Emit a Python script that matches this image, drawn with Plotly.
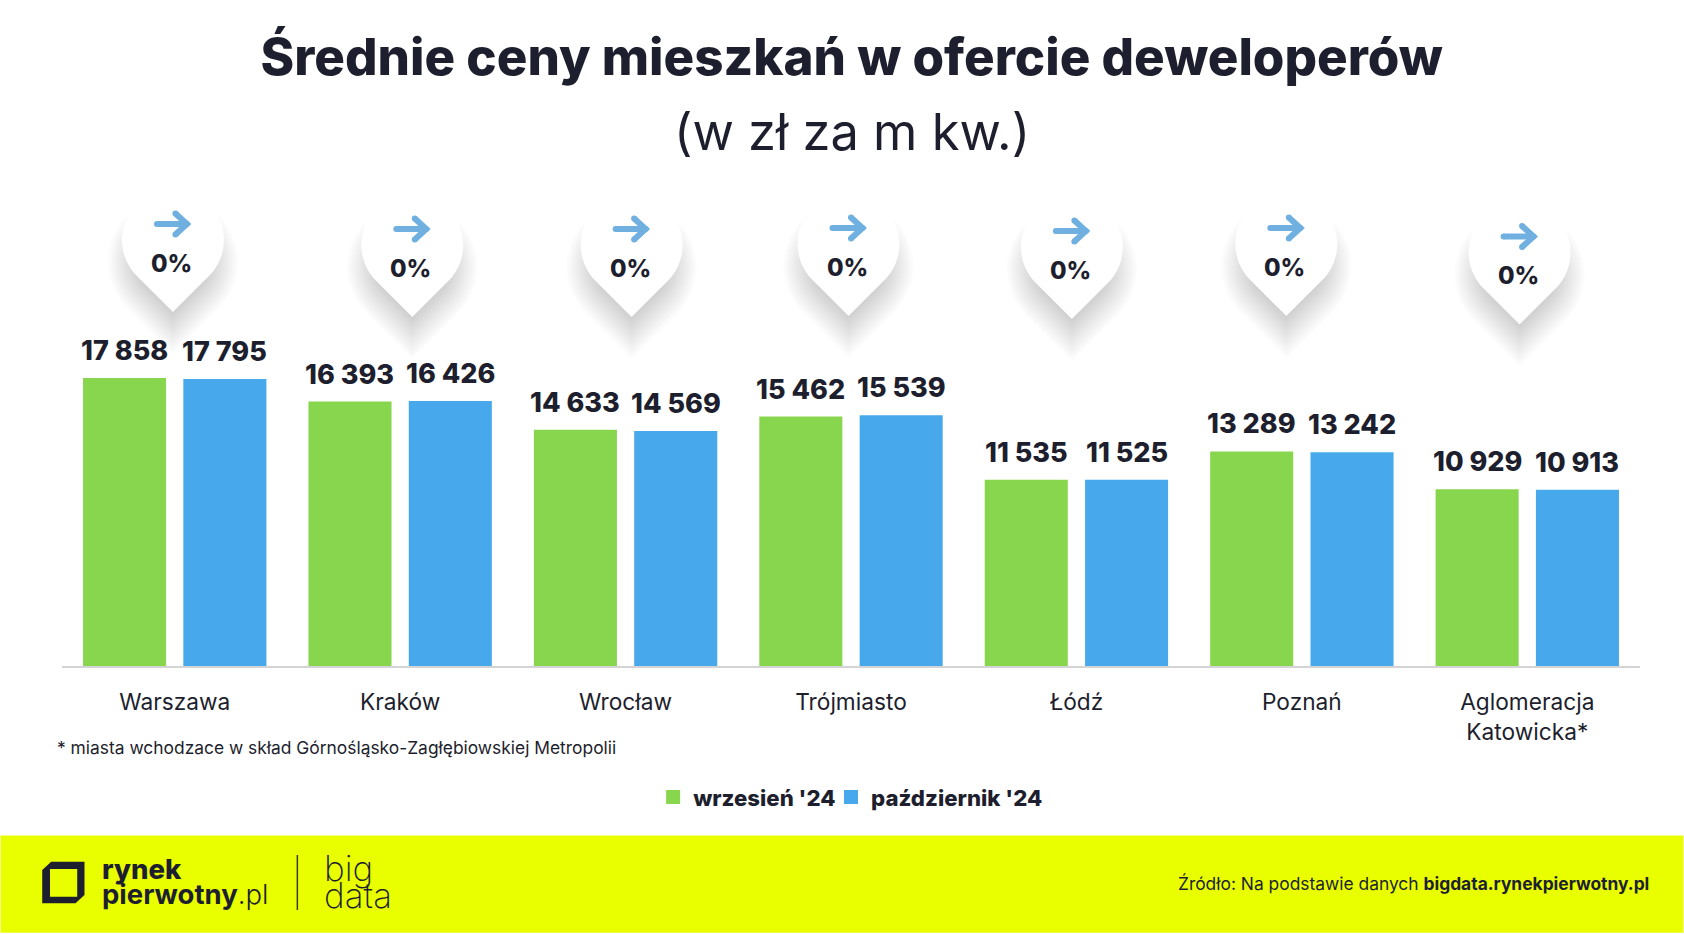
import numpy as np
import plotly.graph_objects as go

categories = ["Warszawa", "Kraków", "Wrocław", "Trójmiasto", "Łódź", "Poznań", "Aglomeracja<br>Katowicka*"]
september = [17858, 16393, 14633, 15462, 11535, 13289, 10929]
october = [17795, 16426, 14569, 15539, 11525, 13242, 10913]
changes = ["0%", "0%", "0%", "0%", "0%", "0%", "0%"]
series_names = ["wrzesień '24", "październik '24"]
title_text = "Średnie ceny mieszkań w ofercie deweloperów"
subtitle_text = "(w zł za m kw.)"
note_text = "* miasta wchodzace w skład Górnośląsko-Zagłębiowskiej Metropolii"
source_plain = "Źródło: Na podstawie danych "
source_bold = "bigdata.rynekpierwotny.pl"

# ---- layout constants (pixels) ----
W, H = 1684, 934
L, R, T, B = 61.5, 1640.5, 170, 666
PX_PER_UNIT = 0.01607
PIN_TIPS = [(172.5, 312), (412, 317), (631.5, 317), (848.5, 316), (1072, 319), (1286.6, 316), (1520, 324.5)]
FONT = "Inter"
DARK = "#1e1f2e"
GREEN = "#88d64e"
BLUE = "#47a9ec"
YELLOW = "#e9ff00"
ARROW = "#6fb0e0"


def px(x):
    return (x - L) / (R - L)


def py(y):
    return (B - y) / (B - T)


def path(points, close=True):
    s = "M" + "L".join(f"{px(x):.5f},{py(y):.5f}" for x, y in points)
    return s + ("Z" if close else "")


def pin_points(tx, ty, r=51.0, dy=0.0):
    cx, cy = tx, ty - 72.0 + dy
    pts = [(cx, cy + 72.0 * r / 51.0)]
    pts += [(cx + r * np.cos(a), cy - r * np.sin(a)) for a in np.radians(np.linspace(225, -45, 50))]
    return pts


def circle(x, y, r, color):
    return dict(type="circle", xref="paper", yref="paper", layer="below",
                x0=px(x - r), x1=px(x + r), y0=py(y + r), y1=py(y - r),
                fillcolor=color, line_width=0)


def text(x, y, s, size, color=DARK, anchor="center", weight=None):
    font = dict(family=FONT, size=size, color=color)
    if weight:
        font["weight"] = weight
    return dict(xref="paper", yref="paper", x=px(x), y=py(y), text=s, showarrow=False,
                xanchor=anchor, yanchor="middle", align=anchor if anchor != "center" else "center", font=font)


fig = go.Figure()
fig.add_bar(name=series_names[0], x=categories, y=september, legend="legend", showlegend=True,
            marker=dict(color=GREEN, line=dict(color=GREEN, width=2)))
fig.add_bar(name=series_names[1], x=categories, y=october, legend="legend2", showlegend=True,
            marker=dict(color=BLUE, line=dict(color=BLUE, width=2)))

shapes = []
annotations = []

# footer band
shapes.append(dict(type="rect", xref="paper", yref="paper", layer="below",
                   x0=px(0), x1=px(W), y0=py(932.7), y1=py(835.5), fillcolor=YELLOW, line_width=0))

# pins: soft shadow made of stacked translucent teardrops, then the white pin, arrow, text
for (tx, ty), change in zip(PIN_TIPS, changes):
    for e in np.linspace(14, -30, 24):
        shapes.append(dict(type="path", xref="paper", yref="paper", layer="below",
                           path=path(pin_points(tx, ty, r=51 + e, dy=22)),
                           fillcolor="rgba(40,40,50,0.015)", line_width=0))
    shapes.append(dict(type="path", xref="paper", yref="paper", layer="below",
                       path=path(pin_points(tx, ty)), fillcolor="#ffffff", line_width=0))
    ay = ty - 88
    for seg in ([(tx - 16, ay), (tx + 14, ay)], [(tx + 2.5, ay - 10.5), (tx + 14, ay), (tx + 2.5, ay + 10.5)]):
        shapes.append(dict(type="path", xref="paper", yref="paper", layer="below",
                           path=path(seg, close=False), fillcolor="rgba(0,0,0,0)",
                           line=dict(color=ARROW, width=6)))
    for ex, ey in [(tx - 16, ay), (tx + 2.5, ay - 10.5), (tx + 2.5, ay + 10.5), (tx + 14, ay)]:
        shapes.append(circle(ex, ey, 3, ARROW))
    annotations.append(text(tx - 1.5, ty - 49, change, 24, weight=800))

# bar value labels, positioned through the axes
for i, cat in enumerate(categories):
    for vals, shift in ((september, -50.15), (october, 50.15)):
        label = f"{vals[i]:,}".replace(",", " ")
        annotations.append(dict(xref="x", yref="y", x=cat, y=vals[i], xshift=shift, yshift=10,
                                text=label, showarrow=False, yanchor="bottom",
                                font=dict(family=FONT, size=27, color=DARK, weight=800)))

# headings and notes
annotations.append(text(851.7, 131, subtitle_text, 50.6, weight=400))
annotations.append(text(54, 747, note_text, 17.4, anchor="left"))
annotations.append(text(1652, 883, f"{source_plain}<b>{source_bold}</b>", 17.4, anchor="right"))

# logo
shapes.append(dict(type="path", xref="paper", yref="paper", layer="below", line_width=0, fillcolor=DARK,
                   path=path([(50.7, 861.7), (84, 861.7), (84, 895), (75, 903.3), (41.7, 903.3), (41.7, 870)])
                   + path([(49.5, 869), (76.7, 869), (76.7, 896.7), (49.5, 896.7)])))
shapes.append(dict(type="line", xref="paper", yref="paper", layer="below", x0=px(297), x1=px(297),
                   y0=py(910), y1=py(855), line=dict(color="#3a3a20", width=1.5)))
annotations.append(text(100, 868.5, "rynek", 27.5, anchor="left", weight=800))
annotations.append(text(100, 894, "<b>pierwotny</b>.pl", 27.5, anchor="left", weight=300))
annotations.append(text(322, 868, "big", 35, anchor="left", weight=200))
annotations.append(text(322, 895, "data", 35, anchor="left", weight=200))

legend_style = dict(orientation="h", xanchor="left", y=py(797), yanchor="middle",
                    font=dict(family=FONT, size=22.2, color=DARK, weight=800), bgcolor="rgba(0,0,0,0)",
                    itemclick=False, itemdoubleclick=False)

fig.update_layout(
    width=W, height=H, autosize=False, showlegend=True,
    margin=dict(l=L, r=W - R, t=T, b=H - B, pad=0, autoexpand=False),
    paper_bgcolor="#ffffff", plot_bgcolor="rgba(0,0,0,0)",
    barmode="group", bargap=0.11, bargroupgap=0.192,
    font=dict(family=FONT, color=DARK),
    title=dict(text=title_text, x=851.7 / W, xanchor="center", y=1 - 57 / H, yanchor="middle",
               xref="container", yref="container", font=dict(family=FONT, size=51.1, color=DARK, weight=800)),
    xaxis=dict(type="category", showline=True, linecolor="#d4d4d6", linewidth=1.5, showgrid=False,
               ticks="outside", ticklen=15, tickcolor="rgba(0,0,0,0)", tickfont=dict(family=FONT, size=22.7, color=DARK),
               range=[-0.5, 6.5], fixedrange=True),
    yaxis=dict(visible=False, range=[0, (B - T) / PX_PER_UNIT], fixedrange=True),
    legend=dict(x=px(653), **legend_style),
    legend2=dict(x=px(831), **legend_style),
    shapes=shapes, annotations=annotations,
)

fig.write_html("out.html", config=dict(displayModeBar=False),
               post_script="document.body.style.margin='0';document.body.style.overflow='hidden';")
